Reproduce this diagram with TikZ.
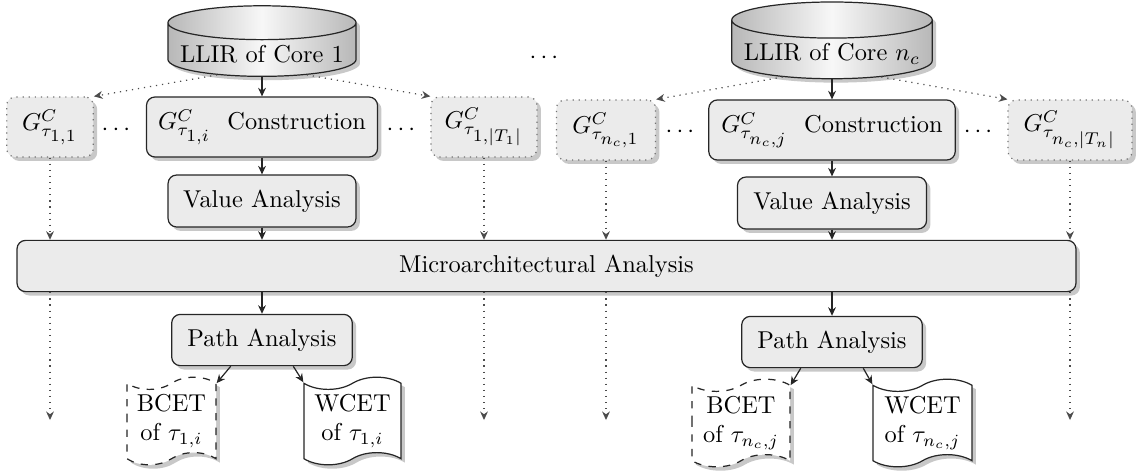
\documentclass[tikz,border=0pt]{standalone}
\usepackage{amsmath,amssymb}
\usepackage{tikz}
\usetikzlibrary{arrows.meta,shapes.geometric,shapes.symbols,shadows}
\definecolor{boxfill}{HTML}{EBEBEB}
\definecolor{shadowgray}{HTML}{C8C8C8}
\tikzset{
  castshadow/.style={drop shadow={shadow xshift=1.6pt, shadow yshift=-1.6pt,
    fill=shadowgray, opacity=1}},
  stage/.style={draw=black!85, line width=0.5pt, rounded corners=3.5pt, fill=boxfill,
    castshadow, align=center, inner sep=2pt, minimum height=21.3pt},
  graphbox/.style={stage, draw=black!55, dotted, minimum height=24.6pt},
  store/.style={cylinder, shape border rotate=90, aspect=0.18, draw=black!85,
    line width=0.5pt, left color=black!28, right color=black!28, middle color=black!3,
    castshadow, inner xsep=5pt, inner ysep=2pt, minimum height=27.5pt},
  report/.style={tape, draw=black!85, line width=0.5pt, fill=white, castshadow,
    align=center, inner sep=2pt, minimum height=33pt},
  flow/.style={-{Stealth[length=3.5pt, width=3.2pt]}, line width=0.5pt, draw=black!85},
  hint/.style={flow, dotted, draw=black!70}
}
\newcommand{\sst}{\scriptstyle}

\begin{document}
\begin{tikzpicture}[x=0.01441cm, y=-0.01441cm]
  \useasboundingbox (0,0) rectangle (1137,473);

  % core 1
  \node[store] (cyl1) at (262,54) {LLIR of Core 1};
  \node[graphbox, minimum width=35.5pt] (g11) at (50,127) {$G^C_{\tau_{\sst 1,1}}$};
  \node (dots11) at (118,130) {$\cdots$};
  \node[stage, minimum width=94.7pt, minimum height=24.6pt] (cons1) at (262,127)
    {$G^C_{\tau_{\sst 1,i}}$~ Construction};
  \node (dots12) at (403,130) {$\cdots$};
  \node[graphbox, minimum width=43.5pt] (g1t) at (484,127) {$G^C_{\tau_{\sst 1,|T_1|}}$};
  \node[stage, minimum width=77pt] (val1) at (262,201) {Value Analysis};

  \node (dotstop) at (546,58) {$\cdots$};

  % core n_c
  \node[store] (cyln) at (832,54) {LLIR of Core $n_c$};
  \node[graphbox, minimum width=40.6pt] (gn1) at (606,130) {$G^C_{\tau_{\sst n_c,1}}$};
  \node (dotsn1) at (682,132) {$\cdots$};
  \node[stage, minimum width=101pt, minimum height=24.6pt] (consn) at (832,130)
    {$G^C_{\tau_{\sst n_c,j}}$~ Construction};
  \node (dotsn2) at (980,132) {$\cdots$};
  \node[graphbox, minimum width=50.8pt] (gnt) at (1070,130) {$G^C_{\tau_{\sst n_c,|T_n|}}$};
  \node[stage, minimum width=77.5pt] (valn) at (832,203) {Value Analysis};

  % shared stage
  \node[stage, minimum width=434pt, minimum height=21pt] (micro) at (546.5,266)
    {Microarchitectural Analysis};

  \node[stage, minimum width=74pt, minimum height=21pt] (path1) at (262,340) {Path Analysis};
  \node[stage, minimum width=74pt, minimum height=21pt] (pathn) at (832,342) {Path Analysis};

  \node[report, dashed, minimum width=36.5pt] (bcet1) at (171.5,421) {BCET\\of $\tau_{1,i}$};
  \node[report, minimum width=39.8pt] (wcet1) at (352.5,421) {WCET\\of $\tau_{1,i}$};
  \node[report, dashed, minimum width=40.2pt] (bcetn) at (741,423) {BCET\\of $\tau_{n_c,j}$};
  \node[report, minimum width=40.6pt] (wcetn) at (922.5,423) {WCET\\of $\tau_{n_c,j}$};

  \coordinate (low) at (0,420);
  \coordinate (e11) at (g11.south |- low);
  \coordinate (e1t) at (g1t.south |- low);
  \coordinate (en1) at (gn1.south |- low);
  \coordinate (ent) at (gnt.south |- low);

  % main flow
  \draw[flow] (cyl1.south) -- (cons1.north);
  \draw[flow] (cons1.south) -- (val1.north);
  \draw[flow] (val1.south) -- (val1.south |- micro.north);
  \draw[flow] (path1.north |- micro.south) -- (path1.north);
  \draw[flow] (path1.-140) -- (bcet1.north east);
  \draw[flow] (path1.-40) -- (wcet1.north west);
  \draw[flow] (cyln.south) -- (consn.north);
  \draw[flow] (consn.south) -- (valn.north);
  \draw[flow] (valn.south) -- (valn.south |- micro.north);
  \draw[flow] (pathn.north |- micro.south) -- (pathn.north);
  \draw[flow] (pathn.-140) -- (bcetn.north east);
  \draw[flow] (pathn.-40) -- (wcetn.north west);

  % other task graphs
  \draw[hint] (cyl1.205) -- (g11.north east);
  \draw[hint] (cyl1.-25) -- (g1t.north west);
  \draw[hint] (cyln.205) -- (gn1.north east);
  \draw[hint] (cyln.-25) -- (gnt.north west);
  \foreach \g/\e in {g11/e11, g1t/e1t, gn1/en1, gnt/ent} {
    \draw[hint] (\g.south) -- (\g.south |- micro.north);
    \draw[hint] (\g.south |- micro.south) -- (\e);
  }
\end{tikzpicture}
\end{document}
